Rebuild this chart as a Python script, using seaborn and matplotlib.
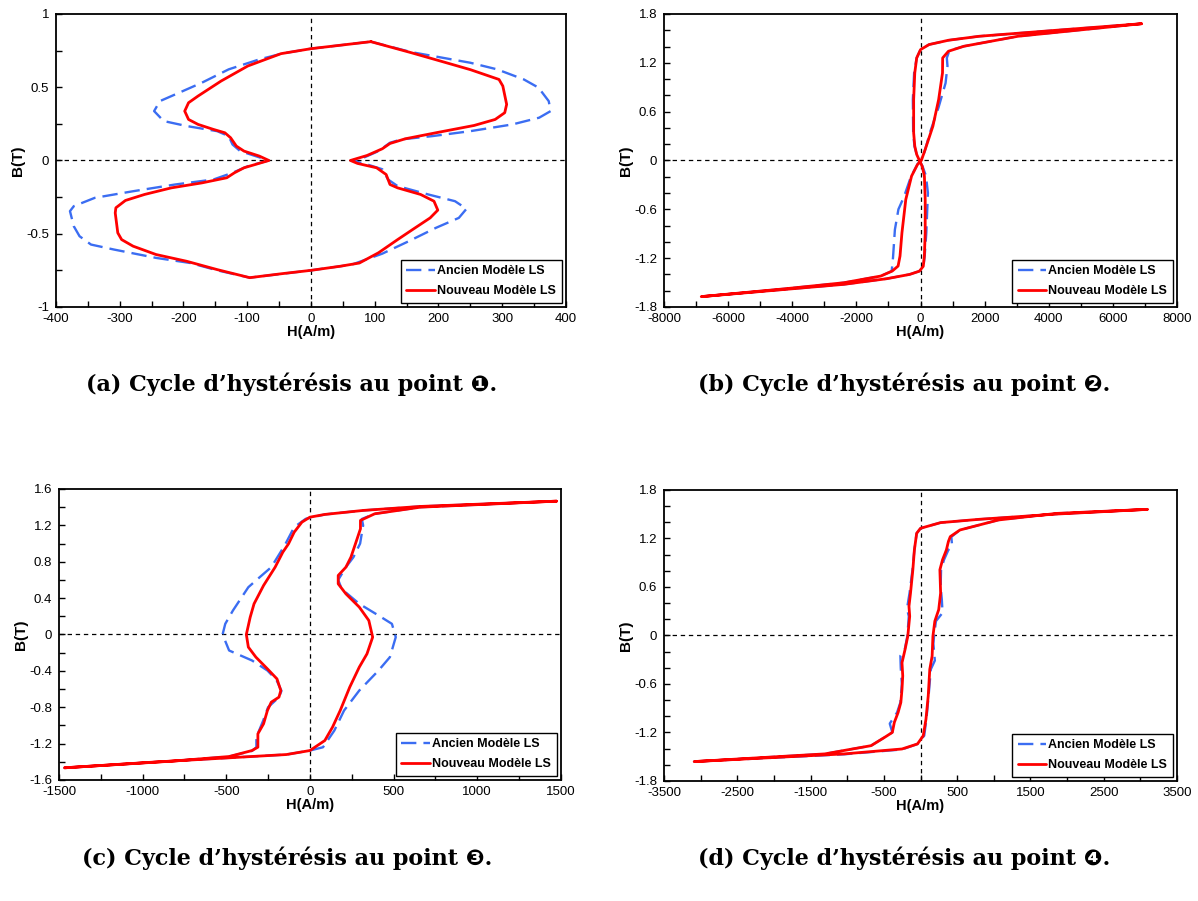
import numpy as np
import matplotlib
matplotlib.use("Agg")
import matplotlib.pyplot as plt
from matplotlib.ticker import MultipleLocator, FuncFormatter
import seaborn as sns

# ---- data (H in A/m, B in T), one closed loop per curve ----
a_old = [(94, 0.811), (157, 0.74), (250, 0.667), (292, 0.622), (334, 0.553), (357, 0.497),
         (373, 0.405), (376, 0.337), (358, 0.292), (316, 0.246), (250, 0.2), (190, 0.166),
         (142, 0.144), (124, 0.121), (106, 0.064), (82, 0.018), (64, 0.0), (88, -0.027),
         (112, -0.06), (121, -0.13), (136, -0.175), (184, -0.232), (226, -0.278), (244, -0.33),
         (232, -0.392), (196, -0.46), (154, -0.55), (112, -0.636), (64, -0.711), (0, -0.75),
         (-96, -0.80), (-147, -0.75), (-189, -0.70), (-243, -0.665), (-309, -0.608), (-345, -0.574),
         (-363, -0.517), (-372, -0.449), (-378, -0.346), (-372, -0.312), (-339, -0.255),
         (-279, -0.21), (-213, -0.164), (-153, -0.13), (-123, -0.084), (-99, -0.039), (-66, 0.0),
         (-87, 0.03), (-111, 0.064), (-123, 0.109), (-129, 0.166), (-147, 0.2), (-195, 0.235),
         (-231, 0.269), (-246, 0.337), (-237, 0.405), (-207, 0.462), (-171, 0.531), (-129, 0.622),
         (-81, 0.69), (-44, 0.731), (0, 0.763), (94, 0.811)]
a_new = [(94, 0.811), (157, 0.736), (202, 0.68), (250, 0.62), (295, 0.553), (301, 0.508),
         (307, 0.383), (304, 0.326), (289, 0.28), (256, 0.239), (196, 0.189), (148, 0.148),
         (124, 0.116), (112, 0.08), (88, 0.034), (62, 0.0), (73, -0.02), (103, -0.05),
         (118, -0.096), (124, -0.164), (136, -0.187), (172, -0.232), (193, -0.278), (199, -0.339),
         (187, -0.392), (160, -0.47), (136, -0.54), (106, -0.63), (76, -0.70), (46, -0.722),
         (0, -0.75), (-44, -0.772), (-96, -0.80), (-147, -0.745), (-195, -0.688), (-243, -0.642),
         (-279, -0.585), (-297, -0.54), (-303, -0.494), (-307, -0.358), (-306, -0.323),
         (-291, -0.273), (-261, -0.232), (-219, -0.187), (-171, -0.153), (-132, -0.118),
         (-120, -0.084), (-105, -0.05), (-87, -0.027), (-66, 0.0), (-81, 0.03), (-105, 0.064),
         (-117, 0.098), (-126, 0.155), (-135, 0.189), (-153, 0.212), (-177, 0.246), (-192, 0.28),
         (-198, 0.337), (-192, 0.394), (-177, 0.44), (-141, 0.542), (-99, 0.645), (-47, 0.729),
         (0, 0.763), (94, 0.811)]

b_old = [(6890, 1.68), (4240, 1.60), (1830, 1.526), (870, 1.477), (265, 1.424), (0, 1.362),
         (-120, 1.26), (-200, 1.076), (-240, 0.75), (-230, 0.34), (-190, 0.176), (-120, 0.074),
         (-35, 0.0), (60, -0.07), (170, -0.19), (230, -0.40), (180, -0.89), (130, -1.17),
         (90, -1.30), (-35, -1.36), (-340, -1.40), (-1060, -1.453), (-2390, -1.522),
         (-4190, -1.583), (-6840, -1.673), (-4190, -1.575), (-2390, -1.502), (-1240, -1.42),
         (-900, -1.36), (-860, -1.20), (-800, -0.85), (-690, -0.60), (-520, -0.45), (-300, -0.2),
         (-100, -0.05), (0, 0.0), (120, 0.1), (300, 0.35), (560, 0.65), (780, 0.95), (840, 1.16),
         (820, 1.26), (900, 1.35), (1350, 1.403), (3040, 1.526), (6890, 1.68)]
b_new = [(6890, 1.68), (4240, 1.60), (1830, 1.526), (870, 1.477), (265, 1.424), (0, 1.362),
         (-120, 1.26), (-180, 1.076), (-215, 0.75), (-215, 0.34), (-180, 0.176), (-120, 0.074),
         (-35, 0.0), (50, -0.07), (120, -0.19), (145, -0.48), (145, -0.89), (120, -1.17),
         (85, -1.30), (-35, -1.36), (-340, -1.40), (-1060, -1.453), (-2390, -1.522),
         (-4190, -1.583), (-6840, -1.673), (-4190, -1.575), (-2390, -1.502), (-1240, -1.42),
         (-880, -1.358), (-700, -1.297), (-640, -1.174), (-580, -0.888), (-460, -0.479),
         (-280, -0.192), (-95, -0.049), (25, 0.0), (145, 0.135), (385, 0.421), (565, 0.749),
         (685, 1.076), (690, 1.26), (870, 1.342), (1350, 1.403), (3040, 1.526), (6890, 1.68)]

c_old = [(1474, 1.466), (661, 1.408), (318, 1.364), (89, 1.32), (-25, 1.272), (-94, 1.18),
         (-151, 0.979), (-231, 0.74), (-300, 0.63), (-368, 0.52), (-460, 0.264), (-506, 0.117),
         (-522, 0.0), (-483, -0.176), (-346, -0.286), (-254, -0.396), (-200, -0.5), (-170, -0.62),
         (-185, -0.69), (-250, -0.80), (-280, -0.95), (-320, -1.13), (-320, -1.24), (-346, -1.28),
         (-483, -1.342), (-826, -1.393), (-1467, -1.466), (-940, -1.404), (-483, -1.356),
         (-140, -1.32), (0, -1.276), (78, -1.24), (146, -1.056), (204, -0.836), (295, -0.616),
         (410, -0.396), (478, -0.249), (513, -0.029), (490, 0.117), (410, 0.209), (295, 0.337),
         (190, 0.5), (169, 0.6), (215, 0.74), (260, 0.85), (300, 1.0), (318, 1.2), (310, 1.27),
         (387, 1.327), (661, 1.4), (1474, 1.466)]
c_new = [(1474, 1.466), (661, 1.408), (318, 1.364), (89, 1.32), (0, 1.29), (-48, 1.235),
         (-94, 1.125), (-128, 0.997), (-162, 0.905), (-208, 0.74), (-277, 0.539), (-334, 0.337),
         (-357, 0.19), (-380, 0.0), (-368, -0.139), (-323, -0.249), (-254, -0.378), (-197, -0.488),
         (-174, -0.616), (-185, -0.689), (-231, -0.744), (-254, -0.836), (-277, -0.982),
         (-311, -1.092), (-311, -1.239), (-346, -1.276), (-483, -1.342), (-826, -1.393),
         (-1467, -1.466), (-940, -1.404), (-483, -1.356), (-140, -1.32), (0, -1.276),
         (89, -1.166), (135, -1.019), (181, -0.836), (238, -0.579), (295, -0.359), (341, -0.213),
         (375, -0.029), (352, 0.154), (295, 0.301), (215, 0.447), (169, 0.557), (169, 0.649),
         (215, 0.74), (245, 0.85), (272, 0.997), (302, 1.162), (302, 1.254), (387, 1.327),
         (661, 1.4), (1474, 1.466)]

d_old = [(3094, 1.56), (1856, 1.502), (801, 1.437), (274, 1.396), (0, 1.326), (-53, 1.264),
         (-84, 1.059), (-110, 0.813), (-150, 0.525), (-185, 0.33), (-160, 0.238), (-180, -0.008),
         (-215, -0.172), (-275, -0.25), (-270, -0.4), (-255, -0.6), (-275, -0.829), (-320, -0.952),
         (-420, -1.09), (-385, -1.199), (-490, -1.26), (-675, -1.363), (-1307, -1.465),
         (-2098, -1.507), (-3089, -1.56), (-1044, -1.47), (-253, -1.41), (-42, -1.342),
         (50, -1.24), (80, -1.035), (110, -0.747), (140, -0.419), (195, -0.31), (175, -0.1),
         (185, 0.0), (210, 0.177), (300, 0.28), (290, 0.45), (274, 0.6), (280, 0.813),
         (320, 0.936), (380, 1.059), (432, 1.1), (420, 1.22), (538, 1.305), (1065, 1.429),
         (1856, 1.51), (3094, 1.56)]
d_new = [(3094, 1.56), (1856, 1.502), (801, 1.437), (274, 1.396), (0, 1.326), (-53, 1.264),
         (-84, 1.059), (-105, 0.813), (-137, 0.525), (-158, 0.361), (-148, 0.238), (-174, -0.008),
         (-211, -0.172), (-253, -0.337), (-243, -0.5), (-253, -0.665), (-269, -0.829),
         (-306, -0.952), (-358, -1.076), (-385, -1.199), (-490, -1.26), (-675, -1.363),
         (-1307, -1.465), (-2098, -1.507), (-3089, -1.56), (-1044, -1.465), (-253, -1.404),
         (-42, -1.342), (37, -1.24), (74, -1.035), (105, -0.747), (126, -0.419), (158, -0.255),
         (169, -0.008), (195, 0.177), (248, 0.32), (274, 0.525), (264, 0.813), (300, 0.936),
         (353, 1.059), (380, 1.162), (406, 1.223), (538, 1.305), (1065, 1.429), (1856, 1.51),
         (3094, 1.56)]

captions = ["(a) Cycle d\u2019hyst\u00e9r\u00e9sis au point \u2776.",
            "(b) Cycle d\u2019hyst\u00e9r\u00e9sis au point \u2777.",
            "(c) Cycle d\u2019hyst\u00e9r\u00e9sis au point \u2778.",
            "(d) Cycle d\u2019hyst\u00e9r\u00e9sis au point \u2779."]
legend_labels = ["Ancien Mod\u00e8le LS", "Nouveau Mod\u00e8le LS"]

# x range, x major/minor step, y range, y major/minor step
panels = [
    (a_old, a_new, (-400, 400), 100, 50, (-1, 1), 0.5, 0.25),
    (b_old, b_new, (-8000, 8000), 2000, 1000, (-1.8, 1.8), 0.6, 0.2),
    (c_old, c_new, (-1500, 1500), 500, 250, (-1.6, 1.6), 0.4, 0.2),
    (d_old, d_new, (-3500, 3500), 1000, 500, (-1.8, 1.8), 0.6, 0.2),
]
# x tick labels of (d) start at -3500
d_xticks = np.arange(-3500, 3501, 1000)

sns.set_style("ticks")
plt.rcParams['font.family'] = ['Liberation Sans', 'DejaVu Sans']
plt.rcParams['axes.unicode_minus'] = False
plt.rcParams['text.color'] = 'black'
plt.rcParams['axes.labelcolor'] = 'black'
plt.rcParams['xtick.color'] = 'black'
plt.rcParams['ytick.color'] = 'black'

fig = plt.figure(figsize=(11.98, 9.01), dpi=100)
rects = [[0.0467, 0.6593, 0.4257, 0.3252],
         [0.5543, 0.6593, 0.4282, 0.3252],
         [0.0492, 0.1343, 0.4190, 0.3230],
         [0.5543, 0.1332, 0.4282, 0.3230]]
cap_pos = [(0.243, 0.574), (0.755, 0.574), (0.240, 0.047), (0.755, 0.047)]

fmt = FuncFormatter(lambda v, p: '{:g}'.format(round(v, 6)))
blue = '#3b6df2'
red = '#ff0000'

for i, (old, new, xr, xmaj, xmin, yr, ymaj, ymin) in enumerate(panels):
    ax = fig.add_axes(rects[i])
    ax.axhline(0, color='black', lw=0.9, ls=(0, (3.5, 3)), zorder=1)
    ax.axvline(0, color='black', lw=0.9, ls=(0, (3.5, 3)), zorder=1)
    old = np.array(old)
    new = np.array(new)
    sns.lineplot(x=old[:, 0], y=old[:, 1], sort=False, estimator=None, ax=ax,
                 color=blue, lw=1.7, linestyle=(0, (6.5, 3)), label=legend_labels[0], zorder=3)
    sns.lineplot(x=new[:, 0], y=new[:, 1], sort=False, estimator=None, ax=ax,
                 color=red, lw=2.0, label=legend_labels[1], zorder=4)
    ax.set_xlim(*xr)
    ax.set_ylim(*yr)
    if i == 3:
        ax.set_xticks(d_xticks)
    else:
        ax.xaxis.set_major_locator(MultipleLocator(xmaj))
    ax.xaxis.set_minor_locator(MultipleLocator(xmin))
    ax.yaxis.set_major_locator(MultipleLocator(ymaj))
    ax.yaxis.set_minor_locator(MultipleLocator(ymin))
    ax.xaxis.set_major_formatter(fmt)
    ax.yaxis.set_major_formatter(fmt)
    ax.tick_params(which='both', direction='in', length=4, width=1, colors='black',
                   labelcolor='black', top=False, right=False)
    ax.tick_params(axis='x', which='major', labelsize=9.5, pad=4)
    ax.tick_params(axis='y', which='major', labelsize=9.5, pad=5)
    for s in ax.spines.values():
        s.set_visible(True)
        s.set_linewidth(1.3)
        s.set_color('black')
    ax.set_xlabel('H(A/m)', fontsize=10.5, fontweight='bold', labelpad=0, color='black')
    ax.set_ylabel('B(T)', fontsize=11, fontweight='bold', labelpad=1, color='black')
    leg = ax.legend(loc='lower right', fontsize=9, frameon=True, fancybox=False,
                    edgecolor='black', framealpha=1, borderaxespad=0.35,
                    handlelength=2.3, handletextpad=0.15, borderpad=0.45, labelspacing=0.6)
    leg.get_frame().set_linewidth(1.0)
    for t in leg.get_texts():
        t.set_fontweight('bold')
        t.set_color('black')
    fig.text(cap_pos[i][0], cap_pos[i][1], captions[i], ha='center', va='center',
             fontsize=16, fontweight='bold', color='black',
             family=['DejaVu Serif', 'DejaVu Sans'])

fig.savefig('out.png', dpi=100)
